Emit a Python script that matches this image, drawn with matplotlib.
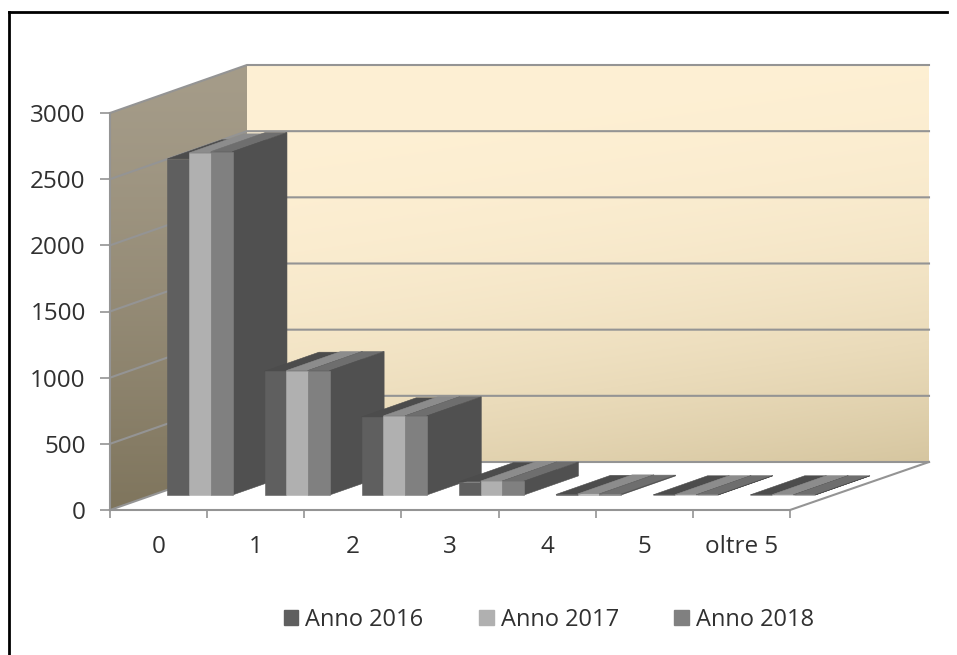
import numpy as np
import matplotlib
matplotlib.use("Agg")
import matplotlib.pyplot as plt
from matplotlib.patches import Polygon, Patch

plt.rcParams['font.family'] = ['Open Sans', 'DejaVu Sans']

categorie = ["0", "1", "2", "3", "4", "5", "oltre 5"]
anno_2016 = [2540, 935, 590, 100, 4, 1, 1]
anno_2017 = [2585, 940, 598, 105, 8, 2, 2]
anno_2018 = [2595, 940, 598, 105, 6, 2, 1]
serie = ["Anno 2016", "Anno 2017", "Anno 2018"]
tick_y = [0, 500, 1000, 1500, 2000, 2500, 3000]

col_front = ["#5f5f5f", "#b0b0b0", "#808080"]
col_top = ["#4c4c4c", "#8c8c8c", "#6e6e6e"]
col_side = "#505050"
griglia = "#949494"

W, H = 957, 655
L, R, T, B = 110, 790, 113, 510

# profondita' della vista 3D, in unita' dei dati
DX = 137 / ((R - L) / 7)
DY = 48 / ((B - T) / 3000)
WALL_W = (929 - 247) / ((R - L) / 7)


def proj(x, v, d):
    return (x + d * DX, v + d * DY)


def poly(ax, pts, col, z=3):
    ax.add_patch(Polygon(pts, closed=True, fc=col, ec=col, lw=0.4, clip_on=False, zorder=z))


def gradiente(ax, pts, c1, c2, diag, esp):
    # riempimento sfumato ritagliato sul poligono
    n = 200
    yy, xx = np.mgrid[0:1:n * 1j, 0:1:n * 1j]
    t = np.clip(yy * (1 - diag) + xx * diag, 0, 1) ** esp
    c1 = np.array(matplotlib.colors.to_rgb(c1))
    c2 = np.array(matplotlib.colors.to_rgb(c2))
    img = c1[None, None, :] * (1 - t[..., None]) + c2[None, None, :] * t[..., None]
    p = np.array(pts)
    im = ax.imshow(img, extent=(p[:, 0].min(), p[:, 0].max(), p[:, 1].min(), p[:, 1].max()),
                   origin="upper", aspect="auto", zorder=1)
    im.set_clip_box(ax.figure.bbox)
    im.set_clip_path(Polygon(pts, closed=True, transform=ax.transData))


fig = plt.figure(figsize=(W / 100, H / 100), dpi=100)
ax = fig.add_axes([L / W, 1 - B / H, (R - L) / W, (B - T) / H])
ax.patch.set_alpha(0)
ax.set_xlim(0, 7)
ax.set_ylim(0, 3000)

# pareti
back = [proj(0, 0, 1), proj(WALL_W, 0, 1), proj(WALL_W, 3000, 1), proj(0, 3000, 1)]
side = [proj(0, 0, 0), proj(0, 0, 1), proj(0, 3000, 1), proj(0, 3000, 0)]
gradiente(ax, back, "#fef0d4", "#d6c6a0", 0.2, 2.5)
gradiente(ax, side, "#a59c89", "#7f755d", 0.0, 1.3)

# griglia
for v in tick_y:
    x0, y0 = proj(0, v, 0)
    x1, y1 = proj(0, v, 1)
    x2, y2 = proj(WALL_W, v, 1)
    ax.plot([x0, x1, x2], [y0, y1, y2], color=griglia, lw=1.5, clip_on=False, zorder=2,
            solid_joinstyle="miter")
# bordo pavimento
fx, fy = proj(7, 0, 0)
bx, by = proj(WALL_W, 0, 1)
ax.plot([fx, bx], [fy, by], color=griglia, lw=1.5, clip_on=False, zorder=2)

# barre
valori = [anno_2016, anno_2017, anno_2018]
D0, D1 = 0.3125, 0.71
START, BW = 0.15, 0.2235
for i in range(len(categorie)):
    for s in range(3):
        v = valori[s][i]
        x0 = i + START + s * BW
        x1 = x0 + BW
        z = 3 + i * 3 + s * 0.5
        poly(ax, [proj(x0, v, D0), proj(x1, v, D0), proj(x1, v, D1), proj(x0, v, D1)], col_top[s], z)
        poly(ax, [proj(x1, 0, D0), proj(x1, 0, D1), proj(x1, v, D1), proj(x1, v, D0)], col_side, z)
        poly(ax, [proj(x0, 0, D0), proj(x1, 0, D0), proj(x1, v, D0), proj(x0, v, D0)], col_front[s], z + 0.1)

# assi
ax.set_xlim(0, 7)
ax.set_ylim(0, 3000)
ax.set_yticks(tick_y)
ax.set_xticks(range(8))
ax.set_xticklabels([])
ax.set_xticks(np.arange(7) + 0.5, minor=True)
ax.set_xticklabels(categorie, minor=True)
ax.tick_params(axis="x", which="major", length=6, width=1.2, color=griglia)
ax.tick_params(axis="x", which="minor", length=0, pad=18, labelsize=17.5, labelcolor="#303030")
ax.tick_params(axis="y", length=7, width=1.2, color=griglia, pad=10.5, labelsize=17.5, labelcolor="#303030")
for sp in ["top", "right"]:
    ax.spines[sp].set_visible(False)
for sp in ["left", "bottom"]:
    ax.spines[sp].set_color(griglia)
    ax.spines[sp].set_linewidth(1.5)
    ax.spines[sp].set_zorder(2)

# legenda
handles = [Patch(fc=c, ec=c, label=n) for c, n in zip(col_front, serie)]
fig.legend(handles=handles, loc="center", bbox_to_anchor=(549 / W, 1 - 620 / H), ncol=3,
           frameon=False, fontsize=17, labelcolor="#303030", handlelength=0.62, handleheight=0.62,
           handletextpad=0.3, columnspacing=2.35)

# cornice
fig.add_artist(plt.Line2D([9 / W, 9 / W], [0, 1 - 12 / H], color="black", lw=2))
fig.add_artist(plt.Line2D([9 / W, 947 / W], [1 - 12 / H, 1 - 12 / H], color="black", lw=2))

fig.savefig("out.png", dpi=100)
